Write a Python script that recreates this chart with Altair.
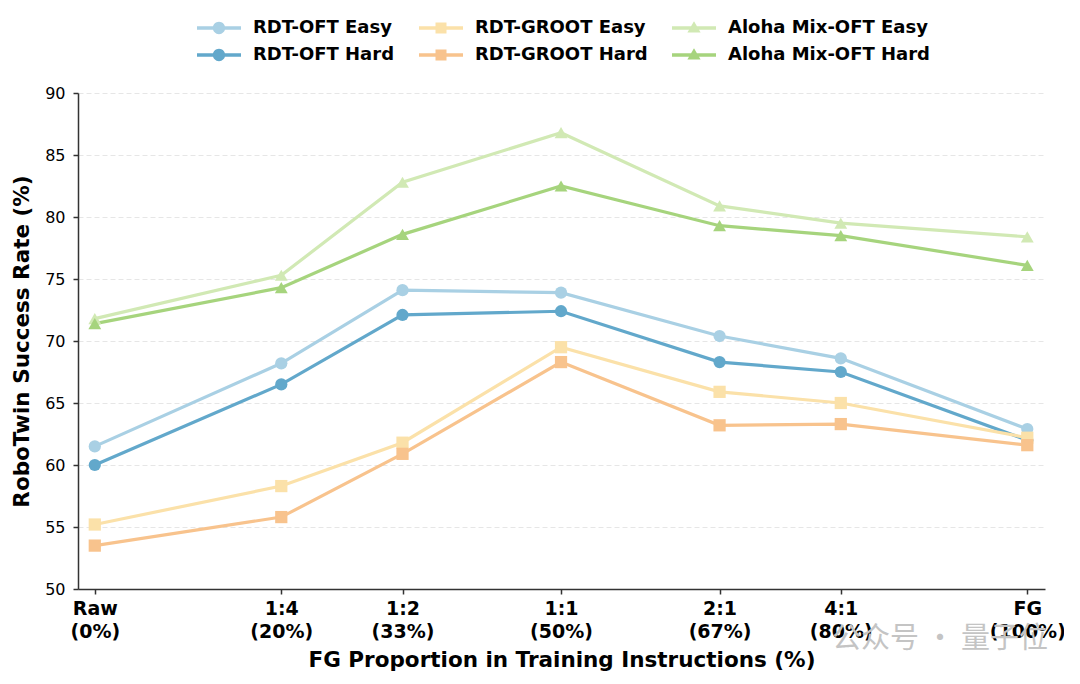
import altair as alt
import pandas as pd

# ---- data ----
x_pct = [0, 20, 33, 50, 67, 80, 100]
x_ratio = ["Raw", "1:4", "1:2", "1:1", "2:1", "4:1", "FG"]

# legend fills column by column: (OFT Easy, OFT Hard), (GROOT Easy, GROOT Hard), (Aloha Easy, Aloha Hard)
series_names = ["RDT-OFT Easy", "RDT-OFT Hard", "RDT-GROOT Easy", "RDT-GROOT Hard",
                "Aloha Mix-OFT Easy", "Aloha Mix-OFT Hard"]
oft_easy = [61.5, 68.2, 74.1, 73.9, 70.4, 68.6, 62.9]
oft_hard = [60.0, 66.5, 72.1, 72.4, 68.3, 67.5, 62.0]
groot_easy = [55.2, 58.3, 61.8, 69.5, 65.9, 65.0, 62.2]
groot_hard = [53.5, 55.8, 60.9, 68.3, 63.2, 63.3, 61.6]
aloha_easy = [71.8, 75.3, 82.8, 86.8, 80.9, 79.5, 78.4]
aloha_hard = [71.4, 74.3, 78.6, 82.5, 79.3, 78.5, 76.1]

colors = ["#a9d0e4", "#62a8cb", "#fbe1a9", "#f8c38d", "#d1e9b4", "#a6d47d"]
markers = {"circle": ["RDT-OFT Easy", "RDT-OFT Hard"],
           "square": ["RDT-GROOT Easy", "RDT-GROOT Hard"],
           "triangle-up": ["Aloha Mix-OFT Easy", "Aloha Mix-OFT Hard"]}

x_title = "FG Proportion in Training Instructions (%)"
y_title = "RoboTwin Success Rate (%)"
watermark = "公众号 · 量子位"

values = {"RDT-OFT Easy": oft_easy, "RDT-OFT Hard": oft_hard,
          "RDT-GROOT Easy": groot_easy, "RDT-GROOT Hard": groot_hard,
          "Aloha Mix-OFT Easy": aloha_easy, "Aloha Mix-OFT Hard": aloha_hard}
rows = []
for s in series_names:
    for xp, v in zip(x_pct, values[s]):
        rows.append({"series": s, "x": xp, "y": v, "order": series_names.index(s)})
df = pd.DataFrame(rows)

# legend symbols: line segment + marker (custom paths in unit space)
line_path = "M-2,-0.15L2,-0.15L2,0.15L-2,0.15Z"
circ = "M-0.56,0A0.56,0.56,0,1,1,0.56,0A0.56,0.56,0,1,1,-0.56,0Z"
sq = "M-0.5,-0.5L0.5,-0.5L0.5,0.5L-0.5,0.5Z"
tri = "M0,-0.62L0.6,0.42L-0.6,0.42Z"
shape_for = {"circle": circ, "square": sq, "triangle-up": tri}
legend_shapes = []
for s in series_names:
    for m, members in markers.items():
        if s in members:
            legend_shapes.append(line_path + shape_for[m])

# label expression for multi-line x tick labels
expr = "''"
for xp, r in reversed(list(zip(x_pct, x_ratio))):
    expr = f"datum.value == {xp} ? ['{r}', '({xp}%)'] : " + expr

FONT = "DejaVu Sans"

x_enc = alt.X("x:Q", scale=alt.Scale(domain=[-1.8, 101.9], nice=False, zero=False),
              axis=alt.Axis(values=x_pct, labelExpr=expr, title=x_title, grid=False,
                            labelFont=FONT, labelFontSize=19, labelFontWeight="bold",
                            labelColor="#000", labelLineHeight=23, labelPadding=5,
                            labelBaseline="top",
                            titleFont=FONT, titleFontSize=21.5, titleFontWeight="bold",
                            titleColor="#000", titlePadding=8,
                            domainColor="#333", domainWidth=1.5, tickColor="#333",
                            tickWidth=1.5, tickSize=5, labelFlush=False))
y_enc = alt.Y("y:Q", scale=alt.Scale(domain=[50, 90], nice=False, zero=False),
              axis=alt.Axis(values=list(range(50, 95, 5)), title=y_title,
                            labelFont=FONT, labelFontSize=16, labelColor="#000",
                            labelPadding=8,
                            titleFont=FONT, titleFontSize=21.5, titleFontWeight="bold",
                            titleColor="#000", titlePadding=11,
                            grid=True, gridColor="#e3e3e3", gridDash=[5, 3], gridWidth=0.9,
                            domainColor="#333", domainWidth=1.5, tickColor="#333",
                            tickWidth=1.5, tickSize=5))

color_scale = alt.Scale(domain=series_names, range=colors)
base = alt.Chart(df)

leg = dict(title=None, orient="none", legendX=130, legendY=-76,
           columns=3, symbolSize=484, symbolStrokeWidth=0, symbolOpacity=1,
           labelFont=FONT, labelFontSize=18, labelLimit=400,
           labelFontWeight="bold", labelColor="#000",
           labelOffset=23, columnPadding=24, rowPadding=7)

# legend-only layer first, so its explicit legend wins the merge
legend_layer = base.mark_point(filled=True, size=0, opacity=1).encode(
    x=x_enc, y=y_enc,
    color=alt.Color("series:N", scale=color_scale, legend=alt.Legend(**leg)),
    shape=alt.Shape("series:N", scale=alt.Scale(domain=series_names, range=legend_shapes),
                    legend=alt.Legend(**leg)),
)

lines = base.mark_line(strokeWidth=3.2).encode(
    x="x:Q", y="y:Q",
    color=alt.Color("series:N", scale=color_scale, legend=None),
    detail="series:N",
    order="order:Q",
)

point_layers = []
for m, members in markers.items():
    point_layers.append(
        base.transform_filter(alt.FieldOneOfPredicate(field="series", oneOf=members))
        .mark_point(filled=True, shape=m, size=150 if m != "triangle-up" else 165, opacity=1)
        .encode(x="x:Q", y="y:Q",
                color=alt.Color("series:N", scale=color_scale, legend=None))
    )

wm = alt.Chart(pd.DataFrame({"t": [watermark]})).mark_text(
    font="Noto Sans CJK SC", fontSize=29, color="#c4c4c4", align="left", baseline="middle"
).encode(text="t:N", x=alt.value(754), y=alt.value(546))

chart = alt.layer(legend_layer, lines, *point_layers, wm).properties(
    width=967, height=496,
    autosize=alt.AutoSizeParams(type="none"),
    padding={"left": 70, "top": 85, "right": 19, "bottom": 95},
    background="white",
).configure_view(stroke=None)

chart.save("out.html", embed_options={"renderer": "svg", "actions": False})
